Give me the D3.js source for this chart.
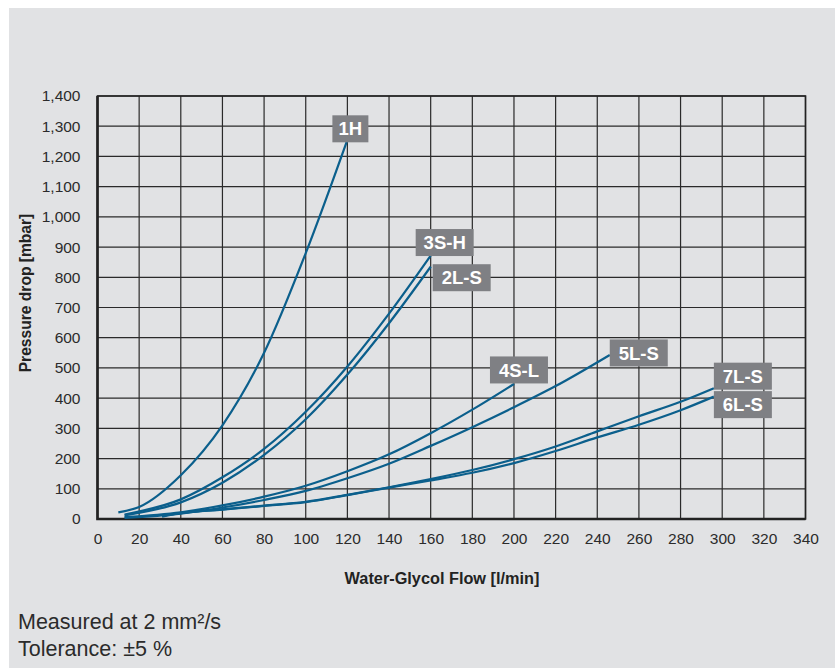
<!doctype html>
<html>
  <head>
    <meta charset="utf-8">
    <title>Pressure drop chart</title>
    <script src="https://cdnjs.cloudflare.com/ajax/libs/d3/7.8.5/d3.min.js"></script>
    <style>
      body { margin: 0; background: #fff; }
      svg { display: block; font-family: "Liberation Sans", Arial, sans-serif; }
    </style>
  </head>
  <body>
    <div id="chart"></div>
    <script>
      // series names and read-off points [flow l/min, pressure mbar]
      const names = ['1H', '3S-H', '2L-S', '4S-L', '5L-S', '7L-S', '6L-S'];
      const s1H  = [[10, 22], [20, 40], [40, 145], [60, 310], [80, 550], [100, 880], [120, 1255]];
      const s3SH = [[13, 15], [40, 65], [60, 138], [80, 232], [100, 355], [120, 505], [140, 680], [160, 872]];
      const s2LS = [[13, 12], [40, 55], [60, 120], [80, 212], [100, 330], [120, 478], [140, 648], [160, 835]];
      const s4SL = [[13, 6], [40, 22], [60, 45], [80, 74], [100, 110], [120, 158], [140, 214], [160, 284], [180, 362], [200, 447]];
      const s5LS = [[13, 4], [40, 18], [60, 38], [80, 63], [100, 93], [120, 135], [140, 183], [160, 242], [180, 304], [200, 370], [220, 440], [246, 543]];
      const s7LS = [[31, 10], [40, 20], [60, 32], [80, 44], [100, 57], [120, 80], [140, 105], [160, 132], [180, 162], [200, 198], [220, 240], [240, 290], [260, 340], [280, 388], [296, 433]];
      const s6LS = [[31, 8], [40, 19], [60, 31], [80, 43], [100, 56], [120, 79], [140, 104], [160, 128], [180, 153], [200, 185], [220, 225], [240, 270], [260, 312], [280, 360], [296, 405]];
      const series = [s1H, s3SH, s2LS, s4SL, s5LS, s7LS, s6LS];

      const xTicks = d3.range(0, 341, 20);
      const yTicks = d3.range(0, 1401, 100);

      // label box offsets from the curve end (pixels): [dx of box centre, dy of box centre]
      const labelOffset = [[3, -11], [14, -13], [31, 11], [5, -14], [29, -2], [29, -12], [29, 8]];

      const W = 835, H = 668;
      const svg = d3.select('#chart').append('svg').attr('width', W).attr('height', H);

      svg.append('rect').attr('x', 9).attr('y', 8).attr('width', W - 9).attr('height', H - 8)
        .attr('fill', '#e1e2e4');

      const x = d3.scaleLinear().domain([0, 340]).range([97.5, 805.5]);
      const y = d3.scaleLinear().domain([0, 1400]).range([519, 96]);

      // grid
      svg.append('g').selectAll('line').data(xTicks).join('line')
        .attr('x1', d => x(d)).attr('x2', d => x(d))
        .attr('y1', y(0)).attr('y2', y(1400))
        .attr('stroke', '#2a2a2a').attr('stroke-width', 1.2);
      svg.append('g').selectAll('line').data(yTicks).join('line')
        .attr('x1', x(0)).attr('x2', x(340))
        .attr('y1', d => y(d)).attr('y2', d => y(d))
        .attr('stroke', '#2a2a2a').attr('stroke-width', 1.2);

      // frame
      svg.append('rect').attr('x', x(0)).attr('y', y(1400))
        .attr('width', x(340) - x(0)).attr('height', y(0) - y(1400))
        .attr('fill', 'none').attr('stroke', '#222').attr('stroke-width', 1.6);
      svg.append('path')
        .attr('d', `M${x(0)},${y(1400)}V${y(0)}H${x(340)}`)
        .attr('fill', 'none').attr('stroke', '#222').attr('stroke-width', 2.6);

      // axes (labels only)
      const xAxis = svg.append('g').attr('transform', `translate(0,${y(0)})`)
        .call(d3.axisBottom(x).tickValues(xTicks).tickSize(0).tickPadding(14));
      const yAxis = svg.append('g').attr('transform', `translate(${x(0)},0)`)
        .call(d3.axisLeft(y).tickValues(yTicks).tickSize(0).tickPadding(17).tickFormat(d3.format(',')));
      [xAxis, yAxis].forEach(a => {
        a.select('.domain').remove();
        a.selectAll('text').attr('font-size', 15.5).attr('fill', '#2b2b2b')
          .attr('font-family', '"Liberation Sans", Arial, sans-serif');
      });

      // curves
      const line = d3.line().x(d => x(d[0])).y(d => y(d[1])).curve(d3.curveMonotoneX);
      svg.append('g').selectAll('path').data(series).join('path')
        .attr('d', line)
        .attr('fill', 'none').attr('stroke', '#0b5f8c').attr('stroke-width', 2.2);

      // labels
      const labels = svg.append('g').selectAll('g').data(names).join('g')
        .attr('transform', (d, i) => {
          const end = series[i][series[i].length - 1];
          return `translate(${x(end[0]) + labelOffset[i][0]},${y(end[1]) + labelOffset[i][1]})`;
        });
      labels.append('rect')
        .attr('x', d => d.length < 3 ? -18 : -29).attr('y', -13.5)
        .attr('width', d => d.length < 3 ? 36 : 58).attr('height', 27)
        .attr('fill', '#7f8084');
      labels.append('text').text(d => d)
        .attr('text-anchor', 'middle').attr('dy', '0.36em')
        .attr('fill', '#fff').attr('font-weight', 'bold').attr('font-size', 18.5);

      // axis titles
      svg.append('text').text('Water-Glycol Flow [l/min]')
        .attr('x', 442).attr('y', 584).attr('text-anchor', 'middle')
        .attr('font-weight', 'bold').attr('font-size', 16.3).attr('fill', '#222');
      svg.append('text').text('Pressure drop [mbar]')
        .attr('transform', 'translate(30.5,293) rotate(-90)').attr('text-anchor', 'middle')
        .attr('font-weight', 'bold').attr('font-size', 15.6).attr('fill', '#222');

      // notes
      svg.append('text').text('Measured at 2 mm²/s')
        .attr('x', 18).attr('y', 629).attr('font-size', 21.5).attr('fill', '#2b2b2b');
      svg.append('text').text('Tolerance: ±5 %')
        .attr('x', 18).attr('y', 656).attr('font-size', 21.5).attr('fill', '#2b2b2b');
    </script>
  </body>
</html>
